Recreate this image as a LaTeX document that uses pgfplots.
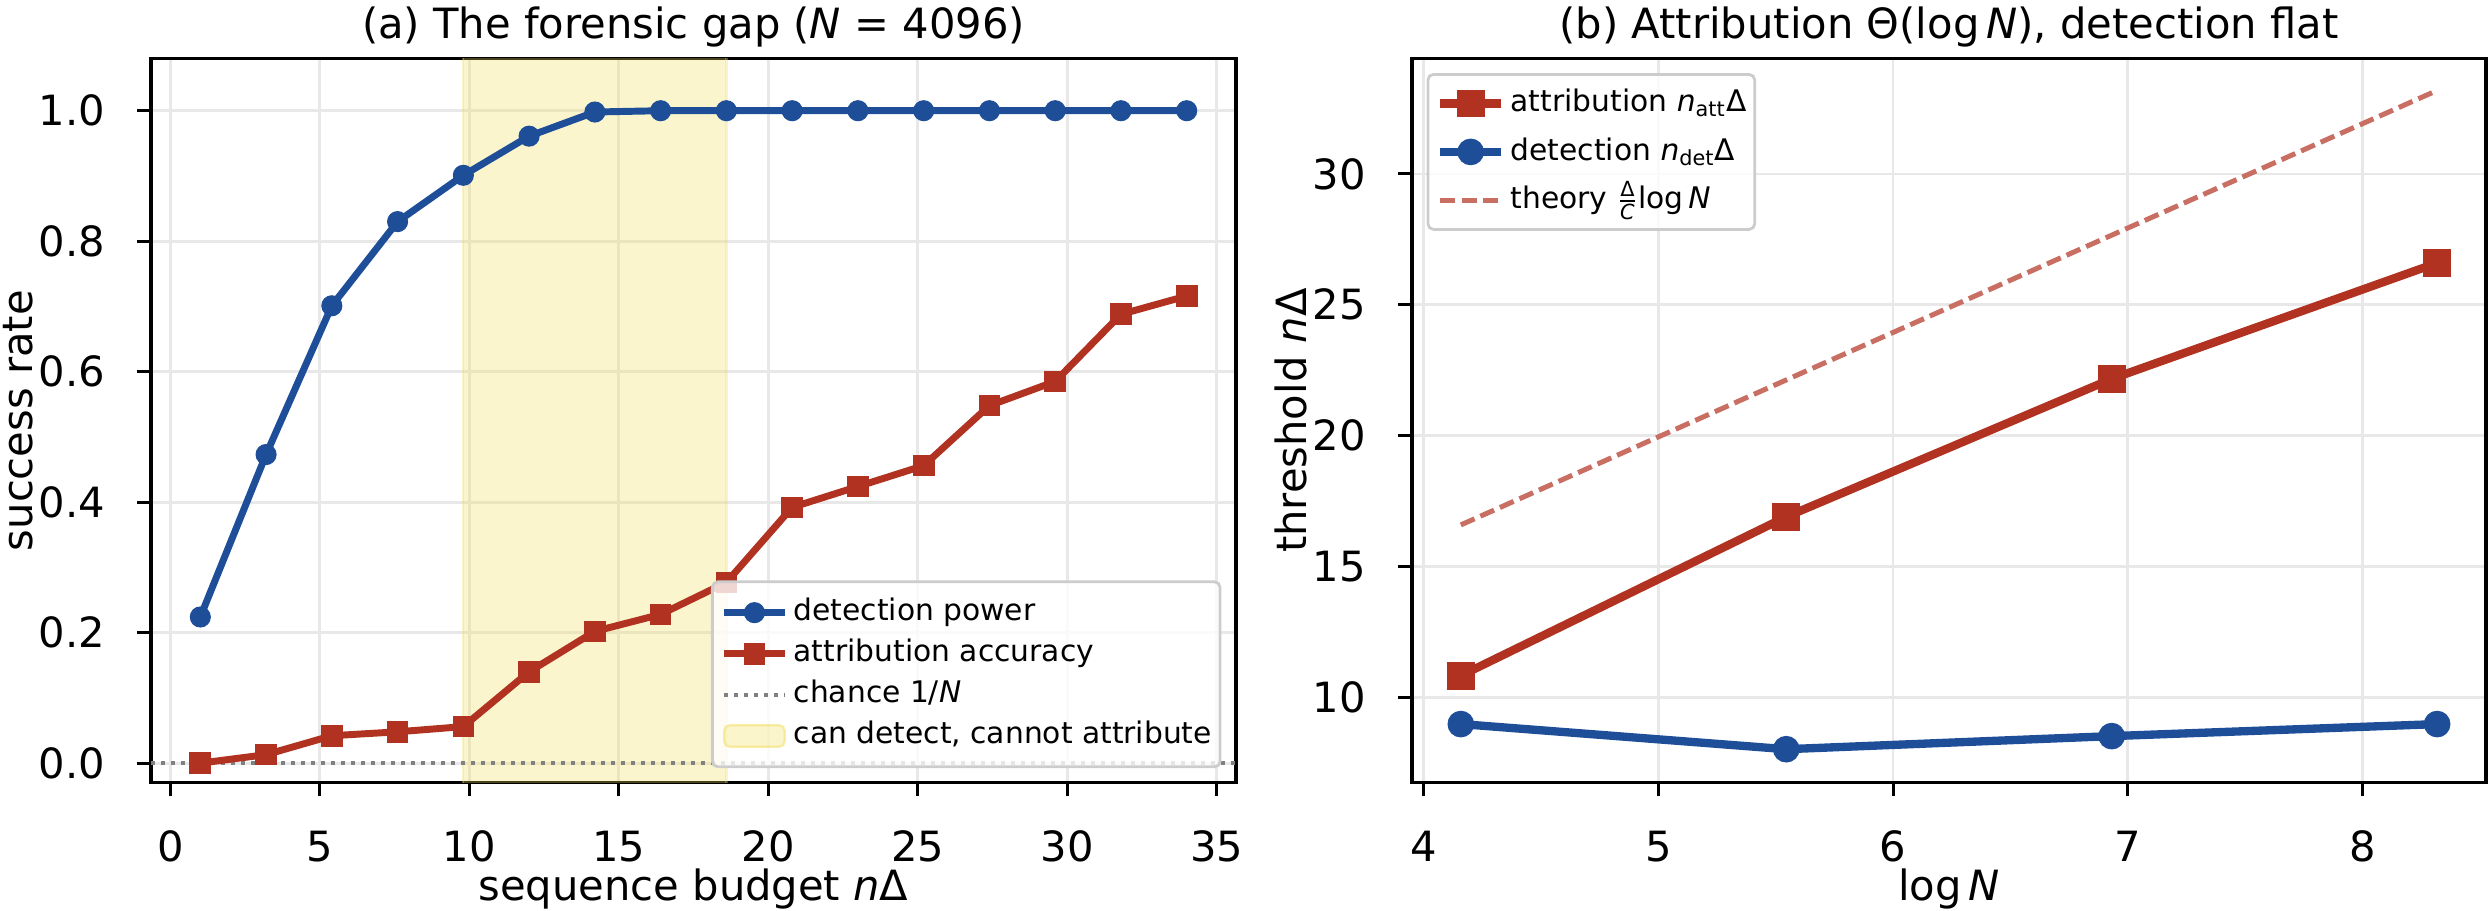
\documentclass[border=0pt]{standalone}
\usepackage{fontspec}
\setmainfont{DejaVu Sans}
\usepackage{amsmath}
\usepackage{pgfplots}
\pgfplotsset{compat=1.18}

\definecolor{detblue}{RGB}{31,78,153}
\definecolor{attred}{RGB}{178,50,34}
\definecolor{theoryred}{RGB}{200,110,99}
\definecolor{spanfill}{RGB}{242,222,88}
\definecolor{gridgray}{RGB}{232,232,232}
\definecolor{legframe}{RGB}{204,204,204}
\definecolor{chancegray}{RGB}{128,128,128}

\newcommand{\mainfs}{\fontsize{15}{18}\selectfont}
\newcommand{\legfs}{\fontsize{10.7}{12.8}\selectfont}

\pgfplotsset{
  every axis title shift=0pt,
  panel/.style={
    scale only axis,
    height=260.7pt,
    axis line style={line width=1.25pt},
    tick style={line width=1.1pt, black},
    major tick length=4.9pt,
    tick align=outside,
    tick pos=left,
    grid=major,
    major grid style={line width=1pt, gridgray},
    tick label style={font=\mainfs},
    label style={font=\mainfs},
    title style={font=\mainfs, at={(axis description cs:0.5,1.0283)}, anchor=base},
    /pgf/number format/assume math mode=true,
    xticklabel style={anchor=base, yshift=-23.6pt},
    yticklabel style={anchor=east, inner sep=0pt, xshift=-11.5pt},
    xlabel style={at={(axis description cs:0.5,-0.162)}, anchor=base},
    legend cell align=left,
  },
  legline/.style={
    legend image code/.code={
      \draw[mark repeat=2, mark phase=2, fill opacity=1, draw opacity=1, ##1]
        plot coordinates {(0pt,0pt) (10.9pt,0pt) (21.8pt,0pt)};
    }
  },
  legpatch/.style={
    legend image code/.code={
      \draw[##1] (0pt,-3.9pt) rectangle (21.8pt,3.9pt);
    }
  },
  legbox/.style={
    font=\legfs,
    draw=legframe, line width=1pt, rounded corners=2pt,
    fill=white, fill opacity=0.8, draw opacity=1, text opacity=1,
    inner xsep=3pt,
    column sep=2pt,
  },
}

% panel (a): success rate against sequence budget, N = 4096
\pgfplotstableread{
budget  detect  attrib
1.0     0.224   0.000
3.2     0.473   0.013
5.4     0.701   0.042
7.6     0.830   0.048
9.8     0.901   0.056
12.0    0.961   0.140
14.2    0.998   0.202
16.4    1.000   0.228
18.6    1.000   0.277
20.8    1.000   0.392
23.0    1.000   0.424
25.2    1.000   0.456
27.4    1.000   0.548
29.6    1.000   0.585
31.8    1.000   0.688
34.0    1.000   0.716
}\gaptable

% panel (b): thresholds against log N
\pgfplotstableread{
logN    attrib  detect  theory
4.1589  10.83   8.98    16.59
5.5452  16.90   8.02    22.13
6.9315  22.17   8.52    27.66
8.3178  26.60   8.98    33.19
}\scaletable

\begin{document}
\begin{tikzpicture}
\path[use as bounding box] (0pt,0pt) rectangle (895.68pt,327.6pt);

\begin{axis}[panel,
  at={(54.36pt,45.83pt)}, anchor=south west, width=390.6pt,
  xmin=-0.65, xmax=35.65, ymin=-0.03, ymax=1.08,
  xtick={0,5,10,15,20,25,30,35},
  ytick={0,0.2,0.4,0.6,0.8,1},
  yticklabel style={/pgf/number format/.cd, fixed, fixed zerofill, precision=1},
  title={(a) The forensic gap (\textit{N} = 4096)},
  xlabel={sequence budget \textit{n}Δ},
  ylabel={success rate},
  ylabel style={at={(axis description cs:-0.109,0.5)}, anchor=base},
  legend style={legbox, at={(axis description cs:0.9866,0.02)}, anchor=south east,
    inner ysep=6pt, row sep=4.6pt,
    nodes={inner sep=0pt, text height=7.8pt, text depth=2.4pt}},
]
  % region where detection works but attribution does not
  \addplot[fill=spanfill, fill opacity=0.3, draw=spanfill, draw opacity=0.35,
    line width=0.8pt, forget plot]
    coordinates {(9.8,-1) (18.6,-1) (18.6,2) (9.8,2)} -- cycle;
  % chance level 1/N
  \addplot[chancegray, line width=1.4pt, dash pattern=on 1.4pt off 2.2pt, forget plot]
    coordinates {(-0.65,0.000244) (35.65,0.000244)};
  \addplot[attred, line width=2.5pt, mark=square*, mark size=3.7pt,
    mark options={solid, fill=attred, line width=0.4pt}, forget plot]
    table[x=budget, y=attrib] {\gaptable};
  \addplot[detblue, line width=2.5pt, mark=*, mark size=3.6pt,
    mark options={solid, fill=detblue, line width=0.4pt}, forget plot]
    table[x=budget, y=detect] {\gaptable};

  \addlegendimage{legline, detblue, line width=2.5pt, mark=*, mark size=3.6pt,
    mark options={solid, fill=detblue, line width=0.4pt}}
  \addlegendentry{detection power}
  \addlegendimage{legline, attred, line width=2.5pt, mark=square*, mark size=3.7pt,
    mark options={solid, fill=attred, line width=0.4pt}}
  \addlegendentry{attribution accuracy}
  \addlegendimage{legline, chancegray, line width=1.4pt, dash pattern=on 1.4pt off 2.2pt}
  \addlegendentry{chance 1/\textit{N}}
  \addlegendimage{legpatch, fill=spanfill, fill opacity=0.3, draw=spanfill,
    draw opacity=0.5, line width=0.8pt}
  \addlegendentry{can detect, cannot attribute}
\end{axis}

\begin{axis}[panel,
  at={(508.32pt,45.83pt)}, anchor=south west, width=386.64pt,
  xmin=3.951, xmax=8.526, ymin=6.74, ymax=34.41,
  xtick={4,5,6,7,8},
  ytick={10,15,20,25,30},
  title={(b) Attribution Θ(log\,\textit{N}), detection flat},
  xlabel={log\,\textit{N}},
  ylabel={threshold \textit{n}Δ},
  ylabel style={at={(axis description cs:-0.098,0.5)}, anchor=base},
  legend style={legbox, at={(axis description cs:0.0135,0.98)}, anchor=north west,
    inner ysep=4pt, row sep=4.4pt,
    nodes={inner sep=0pt, text height=9.5pt, text depth=3.5pt}},
]
  \addplot[theoryred, line width=1.8pt, dash pattern=on 5.4pt off 2.3pt, forget plot]
    table[x=logN, y=theory] {\scaletable};
  \addplot[attred, line width=3pt, mark=square*, mark size=4.8pt,
    mark options={solid, fill=attred, line width=0.4pt}, forget plot]
    table[x=logN, y=attrib] {\scaletable};
  \addplot[detblue, line width=3pt, mark=*, mark size=4.6pt,
    mark options={solid, fill=detblue, line width=0.4pt}, forget plot]
    table[x=logN, y=detect] {\scaletable};

  \addlegendimage{legline, attred, line width=3pt, mark=square*, mark size=4.8pt,
    mark options={solid, fill=attred, line width=0.4pt}}
  \addlegendentry{attribution \textit{n}\textsubscript{att}Δ}
  \addlegendimage{legline, detblue, line width=3pt, mark=*, mark size=4.6pt,
    mark options={solid, fill=detblue, line width=0.4pt}}
  \addlegendentry{detection \textit{n}\textsubscript{det}Δ}
  \addlegendimage{legline, theoryred, line width=1.8pt, dash pattern=on 5.4pt off 2.3pt}
  \addlegendentry{theory $\frac{\text{Δ}}{\text{\itshape C}}$log\,\textit{N}}
\end{axis}
\end{tikzpicture}
\end{document}
